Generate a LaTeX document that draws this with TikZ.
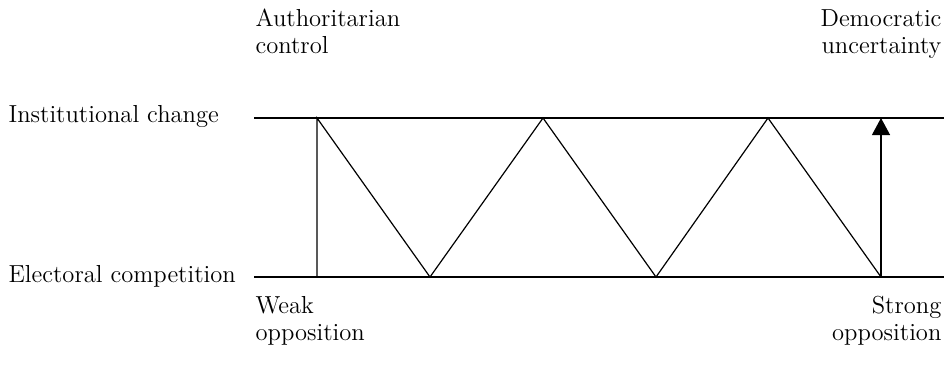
\documentclass[tikz,border=0pt]{standalone}
\usepackage{tikz}
\usetikzlibrary{arrows.meta, positioning}

\begin{document}
\begin{tikzpicture}[x=0.5pt,y=-0.5pt,line width=0.6pt,
		lbl/.style={inner sep=0pt,font=\fontsize{12.3}{13.2}\selectfont},
		rise/.style={-{Triangle[length=8.5pt,width=9pt]}}]
	\useasboundingbox (0,0) rectangle (947,382);
	% the two levels
	\coordinate (itl) at (254,118); \coordinate (itr) at (944,118);
	\coordinate (ecl) at (254,277); \coordinate (ecr) at (944,277);
	\draw (itl) -- (itr);
	\draw (ecl) -- (ecr);
	\node[lbl,anchor=base west] (inst) at (8,122) {Institutional change};
	\node[lbl,anchor=base west] (elec) at (8,282) {Electoral competition};
	% zigzag between the levels
	\coordinate (z0) at (317,118); \coordinate (z0b) at (317,277);
	\coordinate (z1) at (430,277); \coordinate (z2) at (543,118);
	\coordinate (z3) at (656,277); \coordinate (z4) at (768,118);
	\coordinate (z5) at (881,277); \coordinate (z6) at (881,118);
	\draw (z0b) -- (z0) -- (z1) -- (z2) -- (z3) -- (z4) -- (z5);
	\draw[rise] (z5) -- (z6);
	% end labels (base = last line)
	\node[lbl,anchor=base west,align=left] (auth) at (255,53) {Authoritarian\\control};
	\node[lbl,anchor=base east,align=right] (demo) at (942,53) {Democratic\\uncertainty};
	\node[lbl,anchor=base west,align=left] (weak) at (255,340) {Weak\\opposition};
	\node[lbl,anchor=base east,align=right] (strong) at (942,340) {Strong\\opposition};
\end{tikzpicture}
\end{document}
